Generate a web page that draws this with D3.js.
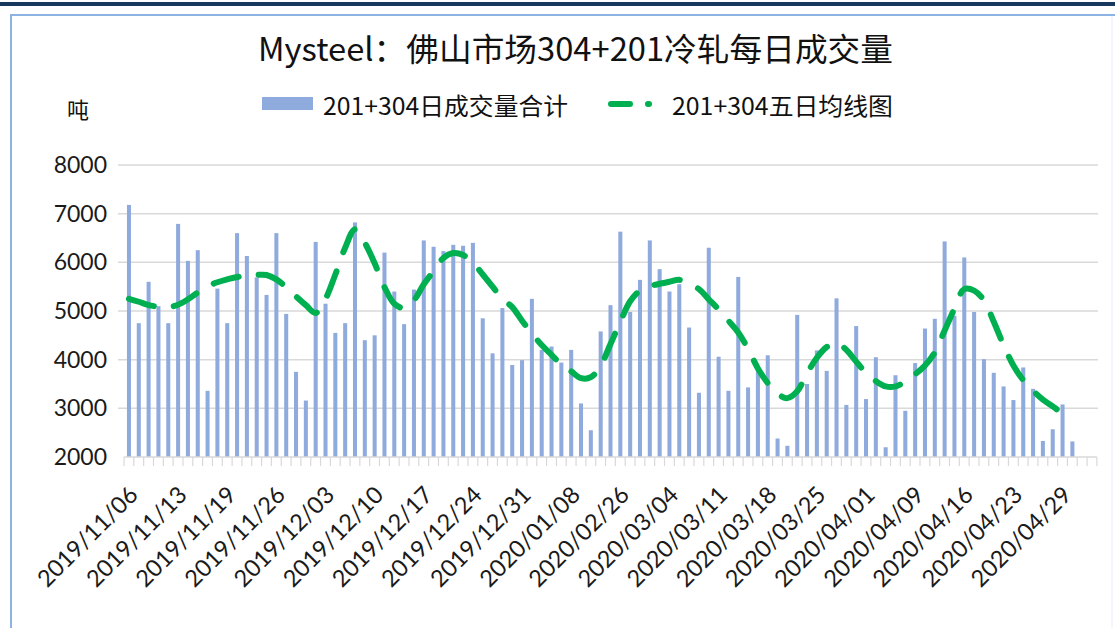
<!DOCTYPE html>
<html>
<head>
<meta charset="utf-8">
<script src="https://cdn.jsdelivr.net/npm/d3@7"></script>
<style>
    body { margin: 0; background: #fff; }
    svg { display: block; }
</style>
</head>
<body>
<svg width="1115" height="628"></svg>
<script>
// daily total volume 201+304 (tons)
var volume = [7180, 4750, 5600, 5100, 4750, 6790, 6030, 6250, 3360, 5460,
    4750, 6600, 6130, 5690, 5330, 6600, 4940, 3750, 3160, 6420,
    5150, 4550, 4750, 6820, 4400, 4500, 6200, 5400, 4730, 5440,
    6450, 6320, 6230, 6360, 6340, 6400, 4850, 4130, 5060, 3890,
    3990, 5250, 4200, 4270, 3940, 4200, 3100, 2550, 4580, 5120,
    6630, 4980, 5640, 6450, 5860, 5400, 5550, 4660, 3320, 6300,
    4060, 3360, 5700, 3430, 3850, 4090, 2380, 2230, 4920, 3500,
    4190, 3770, 5260, 3070, 4690, 3190, 4050, 2200, 3680, 2950,
    3930, 4640, 4840, 6430, 4900, 6100, 4980, 4010, 3730, 3450,
    3170, 3840, 3400, 2330, 2570, 3080, 2320];

// five day average
var ma5 = [5250, 5190, 5120, 5090, 5080, 5130, 5240, 5380, 5510, 5590,
    5650, 5700, 5720, 5740, 5740, 5650, 5490, 5300, 5120, 4960,
    5250, 5750, 6300, 6680, 6400, 5980, 5490, 5150, 5060, 5220,
    5550, 5820, 6090, 6190, 6150, 5990, 5750, 5500, 5250, 5080,
    4800, 4540, 4300, 4100, 3900, 3760, 3620, 3640, 3880, 4320,
    4780, 5200, 5420, 5510, 5560, 5600, 5640, 5560, 5450, 5240,
    5030, 4800, 4560, 4220, 3820, 3520, 3300, 3210, 3350, 3720,
    4040, 4260, 4350, 4200, 3960, 3730, 3560, 3450, 3450, 3550,
    3700, 3880, 4150, 4600, 5050, 5450, 5420, 5220, 4780, 4300,
    3880, 3580, 3360, 3180, 3040, 2890, 2740];

// every 5th category is labelled
var dateLabels = ["2019/11/06", "2019/11/13", "2019/11/19", "2019/11/26", "2019/12/03",
    "2019/12/10", "2019/12/17", "2019/12/24", "2019/12/31", "2020/01/08",
    "2020/02/26", "2020/03/04", "2020/03/11", "2020/03/18", "2020/03/25",
    "2020/04/01", "2020/04/09", "2020/04/16", "2020/04/23", "2020/04/29"];
var nCats = 99;
var yTicks = [2000, 3000, 4000, 5000, 6000, 7000, 8000];

var barColor = "#8faadc",
    lineColor = "#00b050",
    gridColor = "#d9d9d9";

var svg = d3.select("svg");

// page frame
svg.append("rect").attr("x", 0).attr("y", 2).attr("width", 1115).attr("height", 4).attr("fill", "#17375e");
svg.append("path")
    .attr("d", "M11,628V15H1115")
    .attr("fill", "none")
    .attr("stroke", "#8db3e2")
    .attr("stroke-width", 2);
svg.append("line").attr("x1", 1112).attr("x2", 1112).attr("y1", 16).attr("y2", 628)
    .attr("stroke", "#e6eef8").attr("stroke-width", 1);

var x = d3.scaleBand()
    .domain(d3.range(nCats))
    .range([124, 1097])
    .paddingInner(0.59)
    .paddingOuter(0.3);

var y = d3.scaleLinear()
    .domain([2000, 8000])
    .range([457, 165]);

// grid
svg.append("g").selectAll("line")
    .data(yTicks.slice(1))
    .enter().append("line")
    .attr("x1", 118).attr("x2", 1098)
    .attr("y1", function (d) { return y(d); })
    .attr("y2", function (d) { return y(d); })
    .attr("stroke", gridColor)
    .attr("stroke-width", 1.5);

// y labels
svg.append("g").selectAll("text")
    .data(yTicks)
    .enter().append("text")
    .attr("x", 107)
    .attr("y", function (d) { return y(d); })
    .attr("dy", "0.35em")
    .attr("text-anchor", "end")
    .style("font-family", "Lato, 'Open Sans', sans-serif")
    .style("font-size", "23px")
    .attr("fill", "#1a1a1a")
    .text(function (d) { return d; });

// bars
svg.append("g").selectAll("rect")
    .data(volume)
    .enter().append("rect")
    .attr("x", function (d, i) { return x(i); })
    .attr("width", x.bandwidth())
    .attr("y", function (d) { return y(d); })
    .attr("height", function (d) { return y(2000) - y(d); })
    .attr("fill", barColor);

// x axis with a tick at every category edge
var step = x.step();
var x0 = x.range()[0];
svg.append("line")
    .attr("x1", x0).attr("x2", x0 + step * nCats)
    .attr("y1", y(2000)).attr("y2", y(2000))
    .attr("stroke", gridColor).attr("stroke-width", 1.5);
svg.append("g").selectAll("line")
    .data(d3.range(nCats + 1))
    .enter().append("line")
    .attr("x1", function (d) { return x0 + d * step; })
    .attr("x2", function (d) { return x0 + d * step; })
    .attr("y1", y(2000)).attr("y2", y(2000) + 9)
    .attr("stroke", gridColor).attr("stroke-width", 1.2);

svg.append("g").selectAll("text")
    .data(dateLabels)
    .enter().append("text")
    .attr("transform", function (d, i) {
        var cx = x(i * 5) + x.bandwidth() / 2 + 4;
        return "translate(" + cx + ",490) rotate(-45)";
    })
    .attr("text-anchor", "end")
    .attr("dominant-baseline", "central")
    .style("font-family", "Lato, 'Open Sans', sans-serif")
    .style("font-size", "23.5px")
    .attr("fill", "#1a1a1a")
    .text(function (d) { return d; });

// moving average line
var lineD3 = d3.line()
    .x(function (d, i) { return x(i) + x.bandwidth() / 2; })
    .y(function (d) { return y(d); })
    .curve(d3.curveCatmullRom.alpha(0.5));

svg.append("path")
    .datum(ma5)
    .attr("d", lineD3)
    .attr("fill", "none")
    .attr("stroke", lineColor)
    .attr("stroke-width", 6)
    .attr("stroke-linecap", "round")
    .attr("stroke-dasharray", "26 20");

// title
var cjk = "'Noto Sans CJK SC', 'Noto Sans', sans-serif";
svg.append("text")
    .attr("x", 258).attr("y", 47)
    .attr("dominant-baseline", "central")
    .attr("textLength", 635)
    .attr("lengthAdjust", "spacingAndGlyphs")
    .style("font-family", cjk)
    .style("font-size", "32px")
    .attr("fill", "#111")
    .text("Mysteel：佛山市场304+201冷轧每日成交量");

// unit
svg.append("text")
    .attr("x", 78).attr("y", 108)
    .attr("text-anchor", "middle")
    .attr("dominant-baseline", "central")
    .style("font-family", cjk)
    .style("font-size", "22px")
    .attr("fill", "#111")
    .text("吨");

// legend
svg.append("rect")
    .attr("x", 262).attr("y", 97).attr("width", 51).attr("height", 13)
    .attr("fill", barColor);
svg.append("text")
    .attr("x", 323).attr("y", 104)
    .attr("dominant-baseline", "central")
    .attr("textLength", 245)
    .attr("lengthAdjust", "spacingAndGlyphs")
    .style("font-family", cjk)
    .style("font-size", "24px")
    .attr("fill", "#111")
    .text("201+304日成交量合计");

svg.append("line")
    .attr("x1", 611).attr("x2", 649)
    .attr("y1", 104).attr("y2", 104)
    .attr("stroke", lineColor)
    .attr("stroke-width", 6)
    .attr("stroke-linecap", "round")
    .attr("stroke-dasharray", "19 18");
svg.append("text")
    .attr("x", 672).attr("y", 104)
    .attr("dominant-baseline", "central")
    .attr("textLength", 221)
    .attr("lengthAdjust", "spacingAndGlyphs")
    .style("font-family", cjk)
    .style("font-size", "24px")
    .attr("fill", "#111")
    .text("201+304五日均线图");
</script>
</body>
</html>
